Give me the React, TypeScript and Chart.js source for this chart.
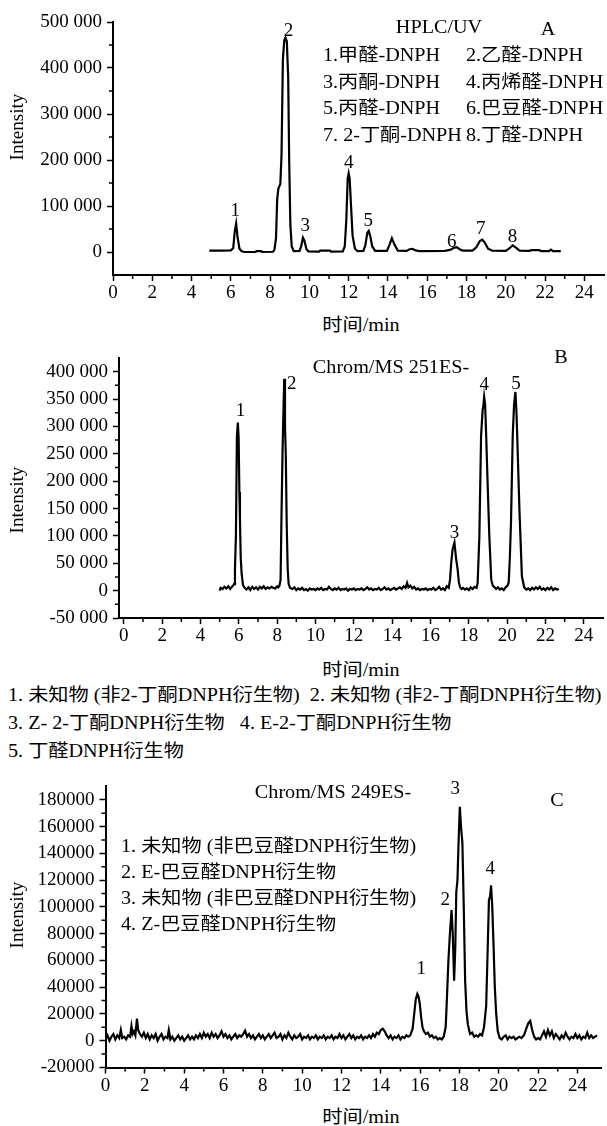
import React, { useEffect, useRef } from "react";
import { Chart, registerables } from "chart.js";

Chart.register(...registerables);

const FONT = "'Liberation Serif', 'Noto Sans CJK SC', serif";

// ---------- data (time in min, intensity) ----------
const traceA: [number, number][] = [
  [4.9, 3000], [5.5, 3200], [6.0, 3500], [6.12, 8000], [6.2, 45000], [6.27, 62000], [6.34, 33000], [6.44, 7000],
  [6.55, 1500], [6.7, 0], [7.25, 0], [7.3, 2000], [7.55, 2000], [7.6, 0], [8.15, 500], [8.22, 5000],
  [8.3, 30000], [8.36, 115000], [8.42, 138000], [8.52, 148000], [8.58, 210000], [8.65, 420000], [8.72, 460000],
  [8.78, 466000], [8.85, 458000], [8.92, 380000], [8.97, 200000], [9.03, 60000], [9.1, 12000], [9.2, 2000],
  [9.5, 2500], [9.58, 12000], [9.67, 31000], [9.75, 24000], [9.85, 6000], [9.95, 1500], [10.5, 1000],
  [10.55, 3000], [11.05, 3000], [11.1, 1000], [11.7, 1500], [11.8, 12000], [11.88, 70000], [11.95, 160000],
  [12.0, 171000], [12.05, 160000], [12.12, 100000], [12.2, 35000], [12.32, 7000], [12.45, 2000], [12.75, 2500],
  [12.85, 15000], [12.95, 42000], [13.02, 46000], [13.1, 34000], [13.2, 12000], [13.35, 2500], [13.95, 2500],
  [14.07, 15000], [14.2, 30000], [14.33, 16000], [14.5, 3000], [14.95, 2500], [15.1, 6000], [15.25, 7000],
  [15.4, 3500], [15.6, 2000], [16.9, 2500], [17.2, 5000], [17.35, 9000], [17.5, 10500], [17.65, 6000],
  [17.8, 3000], [18.3, 3000], [18.5, 10000], [18.68, 24000], [18.8, 27000], [18.92, 21000], [19.1, 7000],
  [19.3, 3000], [20.0, 2500], [20.18, 8000], [20.35, 14500], [20.5, 10000], [20.7, 3000], [21.2, 2500],
  [21.3, 4000], [21.7, 4000], [21.8, 2000], [22.2, 2000], [22.3, 5000], [22.4, 2000], [22.8, 2000],
];

const traceB: [number, number][] = [
  [5.0, 0], [5.05, 5000], [5.15, 3000], [5.25, 7000], [5.35, 4000], [5.45, 8000], [5.55, 3000], [5.62, 6000],
  [5.7, 9000], [5.75, 12000], [5.8, 40000], [5.85, 100000], [5.9, 280000], [5.95, 307000], [5.99, 280000],
  [6.03, 180000], [6.06, 130000], [6.1, 60000], [6.15, 30000], [6.22, 10000], [6.3, 5000], [6.4, 2000],
  [6.5, 6000], [6.6, 1000], [6.7, 7000], [6.8, 3000], [6.9, 6000], [7.0, 2000], [7.1, 7000], [7.2, 4000],
  [7.3, 8000], [7.4, 3000], [7.5, 6000], [7.6, 4000], [7.7, 7000], [7.8, 5000], [7.9, 4000], [8.0, 8000],
  [8.06, 6000], [8.12, 9000], [8.18, 20000], [8.22, 120000], [8.28, 250000], [8.33, 330000], [8.37, 387000],
  [8.41, 300000], [8.45, 250000], [8.5, 120000], [8.55, 40000], [8.6, 12000], [8.68, 5000], [8.8, 3000],
  [8.9, 6000], [9.0, 1000], [9.1, 4000], [9.2, 2000], [9.3, 5000], [9.4, 1000], [9.5, 3000], [9.6, 0],
  [9.7, 4000], [9.8, 2000], [9.9, 3000], [10.0, 1000], [10.1, 4000], [10.2, 2000], [10.3, 5000], [10.4, 1000],
  [10.5, 3000], [10.6, 2000], [10.7, 7000], [10.8, 3000], [10.9, 1000], [11.0, 4000], [11.1, 2000],
  [11.2, 5000], [11.3, 1000], [11.4, 3000], [11.5, 2000], [11.6, 4000], [11.7, 0], [11.8, 3000], [11.9, 2000],
  [12.0, 4000], [12.1, 1000], [12.2, 3000], [12.3, 2000], [12.4, 4000], [12.5, 1000], [12.6, 3000],
  [12.7, 6000], [12.8, 2000], [12.9, 4000], [13.0, 1000], [13.1, 3000], [13.2, 2000], [13.3, 5000],
  [13.4, 1000], [13.5, 3000], [13.6, 6000], [13.7, 2000], [13.8, 4000], [13.9, 1000], [14.0, 3000],
  [14.1, 5000], [14.2, 2000], [14.3, 4000], [14.4, 6000], [14.5, 3000], [14.6, 8000], [14.7, 5000],
  [14.78, 14000], [14.85, 6000], [14.95, 9000], [15.05, 4000], [15.15, 7000], [15.25, 2000], [15.35, 4000],
  [15.45, 1000], [15.55, 3000], [15.65, 2000], [15.75, 4000], [15.85, 1000], [15.95, 3000], [16.05, 2000],
  [16.15, 5000], [16.25, 1000], [16.35, 3000], [16.45, 7000], [16.55, 2000], [16.65, 4000], [16.75, 1000],
  [16.85, 8000], [16.95, 5000], [17.02, 20000], [17.08, 50000], [17.15, 75000], [17.25, 88000], [17.33, 60000],
  [17.42, 38000], [17.48, 15000], [17.55, 5500], [17.62, 3000], [17.7, 5000], [17.8, 2000], [17.9, 4000],
  [18.0, 1000], [18.1, 6000], [18.2, 3000], [18.3, 7000], [18.4, 5000], [18.46, 13600], [18.55, 99000],
  [18.64, 283000], [18.72, 330000], [18.76, 338000], [18.8, 354000], [18.85, 340000], [18.9, 289000],
  [18.98, 197000], [19.07, 99000], [19.17, 20000], [19.25, 9000], [19.32, 7000], [19.42, 3000], [19.52, 6000],
  [19.62, 2000], [19.72, 4000], [19.82, 1000], [19.92, 6000], [20.02, 9000], [20.08, 15000], [20.14, 60000],
  [20.2, 124000], [20.29, 283000], [20.36, 340000], [20.43, 363000], [20.48, 330000], [20.52, 289000],
  [20.64, 148000], [20.77, 25700], [20.89, 6000], [21.0, 2000], [21.1, 4000], [21.2, 1000], [21.3, 5000],
  [21.4, 2000], [21.5, 6000], [21.6, 3000], [21.7, 7000], [21.8, 2000], [21.9, 4000], [22.0, 1000],
  [22.1, 5000], [22.2, 2000], [22.3, 6000], [22.4, 1000], [22.5, 4000], [22.6, 2000], [22.7, 3000],
];

const traceC: [number, number][] = [
  [0.0, 1000], [0.1, 4000], [0.2, 0], [0.3, 3000], [0.4, 5000], [0.5, 1000], [0.6, 4000], [0.7, 2000],
  [0.78, 8000], [0.85, 2000], [0.95, 3000], [1.05, 1000], [1.15, 4000], [1.25, 3000], [1.32, 11000],
  [1.38, 5000], [1.45, 7000], [1.52, 4000], [1.6, 16500], [1.66, 8000], [1.75, 5000], [1.85, 3000],
  [1.95, 6000], [2.05, 2000], [2.15, 5000], [2.25, 1000], [2.35, 4000], [2.45, 2000], [2.55, 5000],
  [2.65, 0], [2.75, 3000], [2.85, 5000], [2.95, 1000], [3.05, 3000], [3.15, 2000], [3.22, 8000], [3.3, 1000],
  [3.4, 3000], [3.5, 0], [3.6, 2000], [3.7, 4000], [3.8, 1000], [3.9, 3000], [4.0, 0], [4.1, 2000],
  [4.2, 4000], [4.3, 1000], [4.4, 3000], [4.5, 1000], [4.6, 4000], [4.7, 2000], [4.8, 5000], [4.9, 2000],
  [5.0, 6000], [5.1, 3000], [5.2, 5000], [5.3, 2000], [5.4, 6000], [5.5, 3000], [5.6, 5000], [5.7, 2000],
  [5.8, 4000], [5.9, 7000], [6.0, 3000], [6.1, 5000], [6.2, 2000], [6.3, 4000], [6.4, 1000], [6.5, 3000],
  [6.6, 5000], [6.7, 2000], [6.8, 4000], [6.9, 3000], [7.0, 5000], [7.1, 7500], [7.2, 3000], [7.3, 5000],
  [7.4, 2000], [7.5, 4000], [7.6, 1000], [7.7, 3000], [7.8, 5000], [7.9, 2000], [8.0, 4000], [8.1, 1000],
  [8.2, 3000], [8.3, 5000], [8.4, 2000], [8.5, 4000], [8.6, 6000], [8.7, 2000], [8.8, 3000], [8.9, 5000],
  [9.0, 1000], [9.1, 4000], [9.2, 2000], [9.3, 6000], [9.4, 3000], [9.5, 1000], [9.6, 4000], [9.7, 2000],
  [9.8, 3000], [9.9, 5000], [10.0, 1000], [10.1, 3000], [10.2, 2000], [10.3, 4000], [10.4, 1000],
  [10.5, 3000], [10.6, 2000], [10.7, 4000], [10.8, 1000], [10.9, 3000], [11.0, 2000], [11.1, 4000],
  [11.2, 1000], [11.3, 3000], [11.4, 2000], [11.5, 4000], [11.6, 1000], [11.7, 3000], [11.8, 2000],
  [11.9, 5000], [12.0, 2000], [12.1, 4000], [12.2, 1000], [12.3, 3000], [12.4, 5000], [12.5, 2000],
  [12.6, 4000], [12.7, 1000], [12.8, 3000], [12.9, 2000], [13.0, 4000], [13.1, 1000], [13.2, 3000],
  [13.3, 2000], [13.4, 4000], [13.5, 2000], [13.6, 5000], [13.7, 3000], [13.8, 6000], [13.9, 5000],
  [14.0, 8000], [14.1, 9000], [14.2, 7000], [14.3, 4000], [14.4, 2000], [14.5, 4000], [14.6, 1000],
  [14.7, 3000], [14.8, 2000], [14.9, 4000], [15.0, 1000], [15.1, 3000], [15.2, 2000], [15.3, 4000],
  [15.4, 3000], [15.5, 4000], [15.62, 9000], [15.7, 20000], [15.78, 31000], [15.86, 35000], [15.92, 33000],
  [15.98, 28000], [16.05, 18000], [16.12, 10000], [16.2, 7000], [16.3, 5000], [16.4, 6000], [16.5, 3000],
  [16.6, 4000], [16.7, 2000], [16.8, 3000], [16.9, 1000], [17.0, 2000], [17.1, 1000], [17.2, 3000],
  [17.3, 10000], [17.36, 30000], [17.44, 60000], [17.52, 81000], [17.6, 97700], [17.66, 80000],
  [17.73, 44800], [17.79, 70000], [17.84, 111000], [17.9, 120000], [17.96, 150000], [18.02, 174700],
  [18.08, 160000], [18.15, 148000], [18.22, 100000], [18.29, 45000], [18.36, 22000], [18.43, 12000],
  [18.54, 5000], [18.65, 6000], [18.75, 3000], [18.85, 4000], [18.95, 3000], [19.05, 5000], [19.15, 4000],
  [19.25, 10000], [19.36, 26000], [19.44, 70000], [19.5, 105000], [19.56, 108000], [19.61, 116000],
  [19.67, 100000], [19.74, 69000], [19.8, 40000], [19.87, 20000], [19.95, 7000], [20.05, 2000], [20.15, 1000],
  [20.25, 3000], [20.35, 4000], [20.45, 1000], [20.55, 3000], [20.65, 2000], [20.75, 3000], [20.85, 1000],
  [20.95, 2000], [21.05, 3000], [21.15, 2000], [21.28, 4000], [21.4, 9000], [21.5, 13000], [21.6, 14800],
  [21.7, 8000], [21.8, 3000], [21.9, 1000], [22.0, 2000], [22.1, 1000], [22.2, 4000], [22.3, 7000],
  [22.4, 3000], [22.5, 8000], [22.6, 4000], [22.7, 7000], [22.8, 2000], [22.9, 5000], [23.0, 3000],
  [23.1, 1000], [23.2, 4000], [23.3, 2000], [23.4, 6000], [23.5, 3000], [23.6, 1000], [23.7, 3000],
  [23.8, 2000], [23.9, 5000], [24.0, 2000], [24.1, 4000], [24.2, 1000], [24.3, 3000], [24.4, 2000],
  [24.5, 6000], [24.6, 2000], [24.7, 4000], [24.8, 2000], [24.9, 3000], [25.0, 4000],
];

// ---------- ticks ----------
const xTicks = [0, 2, 4, 6, 8, 10, 12, 14, 16, 18, 20, 22, 24];
const xMinorTicks = [1, 3, 5, 7, 9, 11, 13, 15, 17, 19, 21, 23];
const yTicksA = [0, 100000, 200000, 300000, 400000, 500000];
const yMinorA = [50000, 150000, 250000, 350000, 450000];
const yTicksB = [-50000, 0, 50000, 100000, 150000, 200000, 250000, 300000, 350000, 400000];
const yMinorB = [-25000, 25000, 75000, 125000, 175000, 225000, 275000, 325000, 375000];
const yTicksC = [-20000, 0, 20000, 40000, 60000, 80000, 100000, 120000, 140000, 160000, 180000];
const yMinorC = [-10000, 10000, 30000, 50000, 70000, 90000, 110000, 130000, 150000, 170000];

// ---------- peak labels (time, intensity) ----------
const peakLabelsA: [string, number, number][] = [
  ["1", 6.22, 90000], ["2", 8.93, 480000], ["3", 9.79, 56000], ["4", 12.0, 193000],
  ["5", 13.0, 67000], ["6", 17.25, 22000], ["7", 18.73, 51000], ["8", 20.34, 33000],
];
const peakLabelsB: [string, number, number][] = [
  ["1", 6.09, 329000], ["2", 8.76, 378000], ["3", 17.25, 105000], ["4", 18.81, 375000], ["5", 20.46, 378000],
];
const peakLabelsC: [string, number, number][] = [
  ["1", 16.06, 53600], ["2", 17.28, 105000], ["3", 17.79, 188000], ["4", 19.57, 128000],
];

// ---------- legend texts ----------
const legendA: [string, string][] = [
  ["1.甲醛-DNPH", "2.乙醛-DNPH"],
  ["3.丙酮-DNPH", "4.丙烯醛-DNPH"],
  ["5.丙醛-DNPH", "6.巴豆醛-DNPH"],
  ["7. 2-丁酮-DNPH", "8.丁醛-DNPH"],
];
const legendB = [
  "1. 未知物 (非2-丁酮DNPH衍生物)  2. 未知物 (非2-丁酮DNPH衍生物)",
  "3. Z- 2-丁酮DNPH衍生物   4. E-2-丁酮DNPH衍生物",
  "5. 丁醛DNPH衍生物",
];
const legendC = [
  "1. 未知物 (非巴豆醛DNPH衍生物)",
  "2. E-巴豆醛DNPH衍生物",
  "3. 未知物 (非巴豆醛DNPH衍生物)",
  "4. Z-巴豆醛DNPH衍生物",
];

const fmtSpace = (v: number) => {
  const s = Math.abs(v).toString().replace(/\B(?=(\d{3})+(?!\d))/g, " ");
  return (v < 0 ? "-" : "") + s;
};

const decorPlugin = {
  id: "decor",
  afterDraw(chart: any, _args: any, opts: any) {
    const { ctx } = chart;
    const xs = chart.scales.x;
    const ys = chart.scales.y;
    ctx.save();
    ctx.strokeStyle = "#000";
    ctx.lineWidth = 1.5;
    ctx.beginPath();
    for (const v of opts.xMinor || []) {
      const px = xs.getPixelForValue(v);
      ctx.moveTo(px, xs.top);
      ctx.lineTo(px, xs.top + 4);
    }
    for (const v of opts.yMinor || []) {
      const py = ys.getPixelForValue(v);
      ctx.moveTo(ys.right - 4, py);
      ctx.lineTo(ys.right, py);
    }
    ctx.stroke();
    ctx.fillStyle = "#000";
    ctx.font = `19px ${FONT}`;
    ctx.textAlign = "center";
    ctx.textBaseline = "middle";
    for (const [t, x, y] of opts.labels || []) {
      ctx.fillText(t, xs.getPixelForValue(x), ys.getPixelForValue(y));
    }
    ctx.restore();
  },
};

type PanelCfg = {
  top: number;
  height: number;
  padTop: number;
  padRight: number;
  yWidth: number;
  xHeight: number;
  xMin: number;
  xMax: number;
  yMin: number;
  yMax: number;
  yTicks: number[];
  yMinor: number[];
  fmt: (v: number) => string;
  labels: [string, number, number][];
};

function ChromPanel({ trace, cfg }: { trace: [number, number][]; cfg: PanelCfg }) {
  const ref = useRef<HTMLCanvasElement>(null);
  useEffect(() => {
    const tickFont = { size: 19, family: FONT };
    const chart = new Chart(ref.current as HTMLCanvasElement, {
      type: "line",
      data: {
        datasets: [
          {
            data: trace.map(([x, y]) => ({ x, y })),
            borderColor: "#000",
            borderWidth: 2.2,
            pointRadius: 0,
            tension: 0,
            fill: false,
          },
        ],
      },
      options: {
        responsive: false,
        animation: false,
        layout: { padding: { top: cfg.padTop, right: cfg.padRight, left: 0, bottom: 0 } },
        plugins: {
          legend: { display: false },
          tooltip: { enabled: false },
          decor: { xMinor: xMinorTicks, yMinor: cfg.yMinor, labels: cfg.labels },
        } as any,
        scales: {
          x: {
            type: "linear",
            min: cfg.xMin,
            max: cfg.xMax,
            afterBuildTicks: (s: any) => {
              s.ticks = xTicks.map((v) => ({ value: v }));
            },
            afterFit: (s: any) => {
              s.height = cfg.xHeight;
            },
            grid: { display: true, drawOnChartArea: false, drawTicks: true, tickLength: 6, tickWidth: 1.5, tickColor: "#000" },
            border: { display: true, color: "#000", width: 2 },
            ticks: { color: "#000", font: tickFont, padding: 1, autoSkip: false, maxRotation: 0, callback: (v: any) => String(v) },
          },
          y: {
            type: "linear",
            min: cfg.yMin,
            max: cfg.yMax,
            afterBuildTicks: (s: any) => {
              s.ticks = cfg.yTicks.map((v) => ({ value: v }));
            },
            afterFit: (s: any) => {
              s.width = cfg.yWidth;
            },
            grid: { display: true, drawOnChartArea: false, drawTicks: true, tickLength: 6, tickWidth: 1.5, tickColor: "#000" },
            border: { display: true, color: "#000", width: 2 },
            ticks: { color: "#000", font: tickFont, padding: 5, callback: (v: any) => cfg.fmt(Number(v)) },
          },
        },
      } as any,
      plugins: [decorPlugin],
    });
    return () => chart.destroy();
  }, []);
  return (
    <canvas
      ref={ref}
      width={607}
      height={cfg.height}
      style={{ position: "absolute", left: 0, top: cfg.top, width: 607, height: cfg.height }}
    />
  );
}

const STRETCH = 1.12;

function T({ x, y, children, size = 18, center = false }: { x: number; y: number; children: React.ReactNode; size?: number; center?: boolean }) {
  return (
    <div
      style={{
        position: "absolute",
        left: x,
        top: y,
        transform: `translate(${center ? "-50%" : "0"}, -50%) scaleX(${STRETCH})`,
        transformOrigin: center ? "50% 50%" : "0 50%",
        fontSize: size,
        lineHeight: 1,
        whiteSpace: "pre",
        fontFamily: FONT,
        color: "#000",
      }}
    >
      {children}
    </div>
  );
}

function VT({ x, y, children }: { x: number; y: number; children: React.ReactNode }) {
  return (
    <div
      style={{
        position: "absolute",
        left: x,
        top: y,
        transform: "translate(-50%, -50%) rotate(-90deg) scaleX(1.06)",
        fontSize: 18,
        lineHeight: 1,
        whiteSpace: "pre",
        fontFamily: FONT,
        color: "#000",
      }}
    >
      {children}
    </div>
  );
}

const cfgA: PanelCfg = {
  top: 0, height: 310, padTop: 22, padRight: 3, yWidth: 113, xHeight: 35,
  xMin: 0, xMax: 25, yMin: -50000, yMax: 500000, yTicks: yTicksA, yMinor: yMinorA, fmt: fmtSpace, labels: peakLabelsA,
};
const cfgB: PanelCfg = {
  top: 340, height: 320, padTop: 18, padRight: 4, yWidth: 119, xHeight: 42,
  xMin: -0.25, xMax: 25, yMin: -50000, yMax: 425000, yTicks: yTicksB, yMinor: yMinorB, fmt: fmtSpace, labels: peakLabelsB,
};
const cfgC: PanelCfg = {
  top: 770, height: 330, padTop: 14, padRight: 6, yWidth: 105.5, xHeight: 32.5,
  xMin: 0, xMax: 25.2, yMin: -20000, yMax: 190000, yTicks: yTicksC, yMinor: yMinorC, fmt: (v) => String(v), labels: peakLabelsC,
};

export default function App() {
  return (
    <div style={{ position: "absolute", left: 0, top: 0, width: 607, height: 1126, background: "#fff", overflow: "hidden" }}>
      <ChromPanel trace={traceA} cfg={cfgA} />
      <ChromPanel trace={traceB} cfg={cfgB} />
      <ChromPanel trace={traceC} cfg={cfgC} />

      {/* Panel A texts */}
      <T x={439} y={27} center>HPLC/UV</T>
      <T x={548} y={29} center>A</T>
      {legendA.map((row, i) => (
        <React.Fragment key={i}>
          <T x={323} y={55 + i * 26.7}>{row[0]}</T>
          <T x={466} y={55 + i * 26.7}>{row[1]}</T>
        </React.Fragment>
      ))}
      <VT x={17} y={127}>Intensity</VT>
      <T x={361} y={325} center>时间/min</T>

      {/* Panel B texts */}
      <T x={391} y={367} center>Chrom/MS 251ES-</T>
      <T x={561} y={357} center>B</T>
      <VT x={17} y={500}>Intensity</VT>
      <T x={361} y={670} center>时间/min</T>
      {legendB.map((s, i) => (
        <T key={i} x={8} y={695 + i * 28}>{s}</T>
      ))}

      {/* Panel C texts */}
      <T x={333} y={792} center>Chrom/MS 249ES-</T>
      <T x={557} y={800} center>C</T>
      {legendC.map((s, i) => (
        <T key={i} x={121} y={846 + i * 26}>{s}</T>
      ))}
      <VT x={17} y={915}>Intensity</VT>
      <T x={361} y={1117} center>时间/min</T>
    </div>
  );
}
